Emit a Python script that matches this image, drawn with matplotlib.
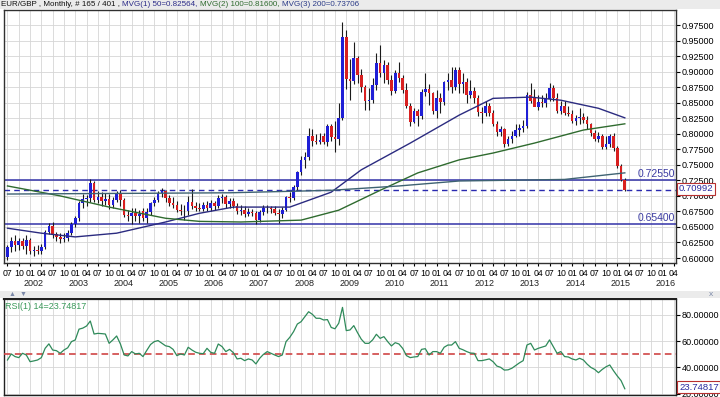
import matplotlib
matplotlib.use("Agg")
import matplotlib.pyplot as plt
import matplotlib.transforms as mtransforms
from matplotlib.patches import Rectangle
import numpy as np

plt.rcParams['font.family'] = ['Liberation Sans', 'DejaVu Sans']

# ---- data: monthly EUR/GBP, Jul 2001 .. Mar 2015 (165 bars) ----
opens = [
    0.601, 0.617, 0.628, 0.621, 0.627, 0.620,
    0.629, 0.611, 0.613, 0.612, 0.618, 0.642, 0.652, 0.638, 0.634, 0.630, 0.633, 0.640,
    0.655, 0.664, 0.688, 0.695, 0.697, 0.720, 0.694, 0.698, 0.692, 0.695, 0.685, 0.694,
    0.705, 0.693, 0.670, 0.667, 0.672, 0.667, 0.676, 0.664, 0.674, 0.688, 0.694, 0.704,
    0.708, 0.697, 0.689, 0.686, 0.678, 0.675, 0.676, 0.690, 0.683, 0.681, 0.679, 0.685,
    0.681, 0.688, 0.684, 0.697, 0.699, 0.687, 0.692, 0.684, 0.676, 0.678, 0.671, 0.674,
    0.673, 0.662, 0.674, 0.680, 0.681, 0.679, 0.672, 0.671, 0.678, 0.698, 0.697, 0.714,
    0.738, 0.757, 0.762, 0.797, 0.789, 0.787, 0.797, 0.787, 0.812, 0.794, 0.792, 0.826,
    0.955, 0.888, 0.885, 0.922, 0.895, 0.876, 0.852, 0.854, 0.879, 0.914, 0.898, 0.910,
    0.887, 0.869, 0.898, 0.890, 0.870, 0.845, 0.819, 0.837, 0.828, 0.868, 0.872, 0.866,
    0.837, 0.858, 0.851, 0.883, 0.886, 0.875, 0.903, 0.880, 0.884, 0.862, 0.869, 0.858,
    0.835, 0.834, 0.845, 0.834, 0.815, 0.803, 0.807, 0.784, 0.791, 0.797, 0.806, 0.809,
    0.812, 0.862, 0.858, 0.843, 0.851, 0.849, 0.856, 0.873, 0.858, 0.836, 0.845, 0.834,
    0.832, 0.821, 0.826, 0.827, 0.822, 0.815, 0.802, 0.792, 0.796, 0.779, 0.784, 0.797,
    0.777, 0.748, 0.726,
]
highs = [
    0.621, 0.634, 0.637, 0.633, 0.632, 0.637,
    0.633, 0.620, 0.621, 0.622, 0.645, 0.657, 0.658, 0.642, 0.640, 0.640, 0.645, 0.658,
    0.668, 0.692, 0.703, 0.702, 0.727, 0.724, 0.708, 0.706, 0.704, 0.703, 0.699, 0.708,
    0.710, 0.696, 0.678, 0.680, 0.680, 0.678, 0.680, 0.680, 0.690, 0.698, 0.708, 0.712,
    0.710, 0.702, 0.698, 0.692, 0.687, 0.685, 0.700, 0.711, 0.690, 0.688, 0.690, 0.692,
    0.693, 0.691, 0.701, 0.703, 0.702, 0.696, 0.697, 0.688, 0.685, 0.684, 0.680, 0.679,
    0.676, 0.678, 0.686, 0.686, 0.684, 0.684, 0.679, 0.682, 0.700, 0.706, 0.717, 0.740,
    0.765, 0.770, 0.810, 0.808, 0.800, 0.801, 0.801, 0.815, 0.815, 0.821, 0.850, 0.980,
    0.967, 0.920, 0.948, 0.925, 0.905, 0.879, 0.873, 0.889, 0.930, 0.943, 0.918, 0.915,
    0.895, 0.903, 0.915, 0.895, 0.882, 0.849, 0.842, 0.840, 0.872, 0.898, 0.880, 0.868,
    0.870, 0.866, 0.885, 0.897, 0.907, 0.908, 0.908, 0.897, 0.890, 0.886, 0.876, 0.862,
    0.843, 0.852, 0.849, 0.838, 0.820, 0.812, 0.810, 0.797, 0.805, 0.815, 0.815, 0.822,
    0.867, 0.882, 0.872, 0.862, 0.862, 0.866, 0.881, 0.879, 0.866, 0.852, 0.852, 0.845,
    0.839, 0.831, 0.842, 0.834, 0.828, 0.818, 0.806, 0.803, 0.799, 0.797, 0.800, 0.802,
    0.781, 0.751, 0.729,
]
lows = [
    0.597, 0.610, 0.612, 0.613, 0.614, 0.606,
    0.606, 0.604, 0.607, 0.607, 0.615, 0.638, 0.633, 0.628, 0.624, 0.626, 0.627, 0.637,
    0.650, 0.660, 0.681, 0.683, 0.690, 0.690, 0.688, 0.684, 0.686, 0.679, 0.680, 0.690,
    0.684, 0.666, 0.660, 0.655, 0.660, 0.656, 0.659, 0.657, 0.670, 0.683, 0.690, 0.698,
    0.690, 0.684, 0.681, 0.674, 0.670, 0.661, 0.670, 0.679, 0.675, 0.676, 0.675, 0.676,
    0.676, 0.678, 0.680, 0.688, 0.680, 0.681, 0.680, 0.671, 0.670, 0.666, 0.668, 0.667,
    0.654, 0.658, 0.669, 0.673, 0.672, 0.670, 0.657, 0.665, 0.675, 0.690, 0.694, 0.710,
    0.733, 0.745, 0.758, 0.780, 0.783, 0.783, 0.783, 0.781, 0.788, 0.770, 0.782, 0.822,
    0.872, 0.855, 0.880, 0.882, 0.868, 0.838, 0.838, 0.850, 0.870, 0.892, 0.881, 0.880,
    0.862, 0.865, 0.884, 0.865, 0.842, 0.812, 0.817, 0.812, 0.824, 0.860, 0.846, 0.832,
    0.826, 0.834, 0.846, 0.870, 0.866, 0.870, 0.866, 0.865, 0.850, 0.858, 0.850, 0.829,
    0.818, 0.828, 0.829, 0.812, 0.796, 0.796, 0.778, 0.780, 0.785, 0.794, 0.797, 0.803,
    0.810, 0.850, 0.845, 0.838, 0.843, 0.843, 0.852, 0.853, 0.833, 0.832, 0.831, 0.829,
    0.817, 0.814, 0.816, 0.817, 0.808, 0.797, 0.788, 0.786, 0.776, 0.776, 0.779, 0.773,
    0.745, 0.724, 0.708,
]
closes = [
    0.617, 0.628, 0.621, 0.627, 0.620, 0.629,
    0.611, 0.613, 0.612, 0.618, 0.642, 0.652, 0.638, 0.634, 0.630, 0.633, 0.640, 0.655,
    0.664, 0.688, 0.695, 0.697, 0.720, 0.694, 0.698, 0.692, 0.695, 0.685, 0.694, 0.705,
    0.693, 0.670, 0.667, 0.672, 0.667, 0.671, 0.664, 0.674, 0.688, 0.694, 0.704, 0.708,
    0.697, 0.689, 0.686, 0.678, 0.675, 0.676, 0.690, 0.683, 0.681, 0.679, 0.685, 0.681,
    0.688, 0.684, 0.697, 0.699, 0.687, 0.692, 0.684, 0.676, 0.678, 0.671, 0.674, 0.673,
    0.662, 0.674, 0.680, 0.681, 0.679, 0.672, 0.671, 0.678, 0.698, 0.697, 0.714, 0.738,
    0.757, 0.762, 0.797, 0.789, 0.787, 0.790, 0.787, 0.812, 0.794, 0.792, 0.826, 0.955,
    0.888, 0.885, 0.922, 0.895, 0.876, 0.852, 0.854, 0.879, 0.914, 0.898, 0.910, 0.887,
    0.869, 0.898, 0.890, 0.870, 0.845, 0.819, 0.837, 0.828, 0.868, 0.872, 0.866, 0.837,
    0.858, 0.851, 0.883, 0.886, 0.875, 0.903, 0.880, 0.884, 0.862, 0.869, 0.858, 0.835,
    0.834, 0.845, 0.834, 0.815, 0.803, 0.807, 0.784, 0.791, 0.797, 0.806, 0.809, 0.812,
    0.862, 0.853, 0.843, 0.851, 0.849, 0.856, 0.873, 0.858, 0.836, 0.845, 0.834, 0.832,
    0.821, 0.826, 0.827, 0.822, 0.815, 0.802, 0.792, 0.796, 0.779, 0.784, 0.797, 0.777,
    0.748, 0.726, 0.70992,
]

# moving averages (bar index, value)
ma50_x = [0, 9, 18, 29, 42, 51, 60, 75, 86, 94, 107, 120, 129, 139, 147, 157, 164]
ma50_y = [0.648, 0.640, 0.634, 0.640, 0.658, 0.672, 0.682, 0.682, 0.706, 0.742,
          0.785, 0.830, 0.857, 0.859, 0.854, 0.841, 0.82564]
ma100_x = [0, 14, 27, 42, 51, 62, 78, 88, 99, 109, 120, 129, 140, 153, 164]
ma100_y = [0.716, 0.700, 0.682, 0.664, 0.659, 0.658, 0.661, 0.677, 0.709, 0.737,
           0.758, 0.769, 0.785, 0.806, 0.81600]
ma200_x = [0, 59, 86, 104, 120, 148, 164]
ma200_y = [0.703, 0.705, 0.709, 0.716, 0.724, 0.7265, 0.73706]

levels = [0.7255, 0.6540]
last_price = 0.70992

rsi = [
    45.7, 50.3, 48.3, 47.5, 50.8, 49.5,
    44.4, 45.0, 45.7, 47.5, 54.6, 58.0, 53.3, 52.8, 50.8, 53.3, 55.0, 59.7,
    61.0, 69.2, 70.0, 71.6, 75.4, 65.5, 66.0, 65.8, 65.5, 58.4, 61.0, 64.0,
    57.9, 49.5, 48.8, 52.1, 50.3, 50.8, 48.3, 53.0, 57.5, 59.7, 60.5, 58.5,
    56.5, 55.9, 53.8, 49.0, 50.3, 49.5, 55.4, 53.3, 51.6, 50.8, 50.5, 54.6,
    51.5, 50.8, 57.9, 55.9, 52.1, 53.8, 51.3, 46.5, 47.0, 45.2, 46.5, 45.7,
    42.7, 47.0, 50.0, 52.1, 50.8, 49.5, 48.3, 49.5, 59.7, 63.0, 67.3, 73.1,
    74.9, 78.7, 82.5, 80.5, 77.5, 77.5, 76.2, 76.5, 70.5, 69.5, 73.7, 85.8,
    68.1, 68.6, 71.9, 66.5, 61.5, 58.4, 58.4, 61.0, 65.3, 62.2, 63.5, 59.7,
    56.4, 58.9, 57.9, 54.5, 49.0, 47.5, 48.0, 48.3, 53.8, 54.3, 49.5, 52.1,
    52.1, 50.8, 55.4, 57.1, 57.1, 59.7, 54.6, 53.5, 52.1, 51.0, 50.8, 45.2,
    45.2, 45.8, 46.5, 44.4, 41.1, 40.1, 38.0, 38.2, 39.4, 41.5, 43.5, 45.2,
    57.1, 58.4, 53.3, 54.6, 55.5, 56.4, 61.0, 55.9, 50.8, 52.1, 48.3, 48.0,
    46.5, 45.7, 47.0, 45.7, 42.5, 40.0, 38.5, 36.0, 38.5, 40.5, 41.9, 37.5,
    33.5, 30.0, 23.74817,
]
rsi_last = 23.74817

quarter_names = ["07", "10", "01", "04"]
years = list(range(2002, 2017))

# ---- figure ----
W, H = 720, 397
fig = plt.figure(figsize=(W / 100, H / 100), dpi=100, facecolor="white")


def box(x0, y0, x1, y1):
    return [x0 / W, 1 - y1 / H, (x1 - x0) / W, (y1 - y0) / H]


# grey strips
fig.patches.append(Rectangle((0, 1 - 9 / H), 1, 9 / H, transform=fig.transFigure,
                             fc="#ebebeb", ec="none", zorder=0))
fig.patches.append(Rectangle((0, 1 - 298 / H), 1, 7 / H, transform=fig.transFigure,
                             fc="#ebebeb", ec="none", zorder=0))

ax = fig.add_axes(box(3.5, 9.5, 676, 263))
rx = fig.add_axes(box(3.5, 299, 676, 395))

up, down, wick = "#1f1fd6", "#d82020", "#1a1a1a"
n = len(closes)
idx = np.arange(n)
o = np.array(opens)
c = np.array(closes)
bottoms = np.minimum(o, c)
heights = np.maximum(np.abs(c - o), 0.0012)
cols = [up if c[i] >= o[i] else down for i in idx]

ax.vlines(idx, lows, highs, color=wick, lw=0.8, zorder=3)
ax.bar(idx, heights, bottom=bottoms, width=0.7, color=cols, lw=0, zorder=4)

ax.plot(ma50_x, ma50_y, color="#2b2b80", lw=1.0, zorder=5)
ax.plot(ma100_x, ma100_y, color="#2f6b2f", lw=1.0, zorder=5)
ax.plot(ma200_x, ma200_y, color="#3e6272", lw=1.0, zorder=5)

for lv in levels:
    ax.axhline(lv, color="#3333a8", lw=1.1, zorder=2)
    ax.text(0.998, lv + 0.002, "%.5f" % lv, transform=ax.get_yaxis_transform(),
            ha="right", va="bottom", fontsize=7.5, color="#3a3aa0")
ax.axhline(last_price, color="#2a2ab0", lw=1.0, ls=(0, (4, 3)), zorder=2)

xmin, xmax = -1.06, 177.6
ax.set_xlim(xmin, xmax)
ax.set_ylim(0.592, 1.000)

qt = np.arange(0, 178, 3)
ax.set_xticks(qt)
ax.set_xticklabels([quarter_names[k % 4] for k in range(len(qt))], fontsize=6.3)
yt = np.arange(0.600, 0.9751, 0.025)
ax.set_yticks(yt)
ax.set_yticklabels(["%.5f" % v for v in yt], fontsize=6.5)
ax.yaxis.tick_right()
ax.tick_params(axis="y", length=3, pad=1, width=0.8)
ax.tick_params(axis="x", length=2, pad=2, width=0.8)
ax.grid(True, color="#d6d6d6", lw=0.6)
ax.set_axisbelow(True)
for s in ax.spines.values():
    s.set_color("#303030")
    s.set_linewidth(1.0)

tr = mtransforms.blended_transform_factory(ax.transData, ax.transAxes)
for k, yr in enumerate(years):
    xi = 6 + 12 * k + 0.8
    ax.text(xi, -21 / 253.5, str(yr), transform=tr, ha="center", va="center",
            fontsize=6.5, color="#222222")

fig.text(679 / W, 1 - 188.8 / H, "%.5f" % last_price, fontsize=6.8, color="#2a2aa0",
         va="center", ha="left",
         bbox=dict(boxstyle="square,pad=0.18", fc="white", ec="#b83030", lw=0.8))

# ---- RSI ----
rx.plot(idx, rsi, color="#2f8a5a", lw=0.9, zorder=4)
rx.axhline(50, color="#d04545", lw=1.2, ls=(0, (4, 2.5)), zorder=3)
rx.set_xlim(xmin, xmax)
rx.set_ylim(19.0, 92.2)
rx.set_xticks(qt)
rx.tick_params(axis="x", length=0, labelbottom=False)
rx.set_yticks([20, 40, 60, 80])
rx.set_yticklabels(["%.5f" % v for v in [20, 40, 60, 80]], fontsize=6.5)
rx.yaxis.tick_right()
rx.tick_params(axis="y", length=3, pad=1, width=0.8)
rx.grid(True, color="#d6d6d6", lw=0.6)
rx.set_axisbelow(True)
for s in rx.spines.values():
    s.set_color("#202020")
    s.set_linewidth(1.0)
rx.spines["top"].set_linewidth(1.6)
rx.text(0.002, 0.97, "RSI(1) 14=%.5f" % rsi_last, transform=rx.transAxes,
        ha="left", va="top", fontsize=6.5, color="#3a9a5a")
fig.text(679 / W, 1 - 387 / H, "%.5f" % rsi_last, fontsize=6.8, color="#2a2aa0",
         va="center", ha="left",
         bbox=dict(boxstyle="square,pad=0.18", fc="white", ec="#b83030", lw=0.8))

# strip icons
fig.text(12 / W, 1 - 294 / H, "\u25b2", fontsize=5, color="#7a88a8", ha="center", va="center")
fig.text(23 / W, 1 - 294 / H, "\u25bc", fontsize=5, color="#7a88a8", ha="center", va="center")
fig.text(711 / W, 1 - 294 / H, "x", fontsize=6, color="#7a88a8", ha="center", va="center")

# ---- title line in coloured pieces ----
parts = [("EUR/GBP , Monthly, # 165 / 401 , ", "#111111"),
         ("MVG(1) 50=0.82564, ", "#2b2b88"),
         ("MVG(2) 100=0.81600, ", "#2f6b2f"),
         ("MVG(3) 200=0.73706", "#2b3b88")]
renderer = fig.canvas.get_renderer()
xpos = 1.0
for txt, col in parts:
    t = fig.text(xpos / W, 1 - 4.5 / H, txt, fontsize=5.8, color=col, ha="left", va="center")
    bb = t.get_window_extent(renderer=renderer)
    xpos += bb.width

fig.savefig("out.png", dpi=100, facecolor="white")
